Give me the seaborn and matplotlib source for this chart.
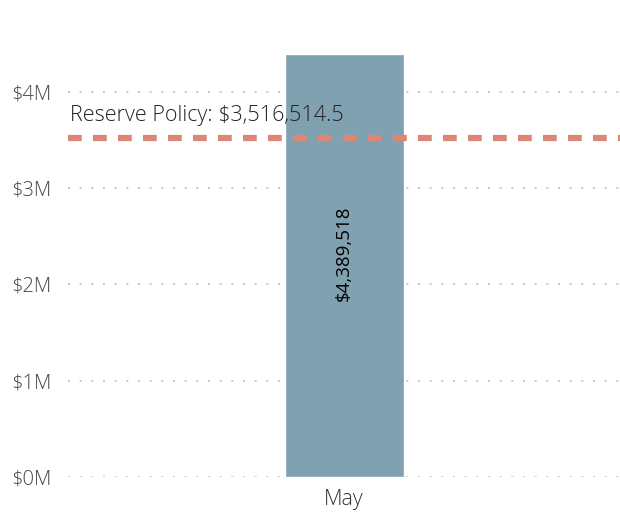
import pandas as pd
import seaborn as sns
import matplotlib.pyplot as plt
from matplotlib.ticker import FuncFormatter

# data
months = ["May"]
reserves = [4389518]
policy = 3516514.5
yticks = [0, 1e6, 2e6, 3e6, 4e6]

df = pd.DataFrame({"month": months, "reserve": reserves})

sns.set_style("white")
plt.rcParams["font.family"] = ["Open Sans", "DejaVu Sans"]

fig = plt.figure(figsize=(6.2, 5.2), dpi=100)
ax = fig.add_axes([0.11, 0.083, 0.89, 0.813])

sns.barplot(data=df, x="month", y="reserve", color="#7FA1B0", width=0.216,
            saturation=1, ax=ax, zorder=3)

# dotted grid
for t in yticks:
    ax.axhline(t, color="#C8C8C8", lw=1.4, ls=(0, (1, 5)), zorder=1)

# reserve policy line
ax.axhline(policy, color="#DD8577", lw=4.5, ls=(0, (2.2, 1.8)), zorder=4)
ax.text(-0.497, policy + 0.13e6, f"Reserve Policy: ${policy:,.1f}",
        fontsize=15.5, color="#222222", fontweight="light", va="bottom", ha="left",
        zorder=5)

# bar label
for i, v in enumerate(reserves):
    ax.text(i, v * 0.53, f"${v:,.0f}", rotation=90, ha="center", va="center",
            fontsize=13.5, color="black", zorder=5)

ax.set_xlim(-0.5, 0.5)
ax.set_ylim(0, max(reserves))
ax.set_yticks(yticks)
ax.yaxis.set_major_formatter(FuncFormatter(lambda v, p: f"${v / 1e6:.0f}M"))
ax.tick_params(axis="y", length=0, pad=12, labelsize=14.5, labelcolor="#444444")
ax.tick_params(axis="x", length=0, pad=9, labelsize=15.5, labelcolor="#333333")
for lab in ax.get_yticklabels() + ax.get_xticklabels():
    lab.set_fontweight("light")
ax.set_xlabel("")
ax.set_ylabel("")
sns.despine(ax=ax, left=True, bottom=True)

fig.savefig("out.png", dpi=100)
